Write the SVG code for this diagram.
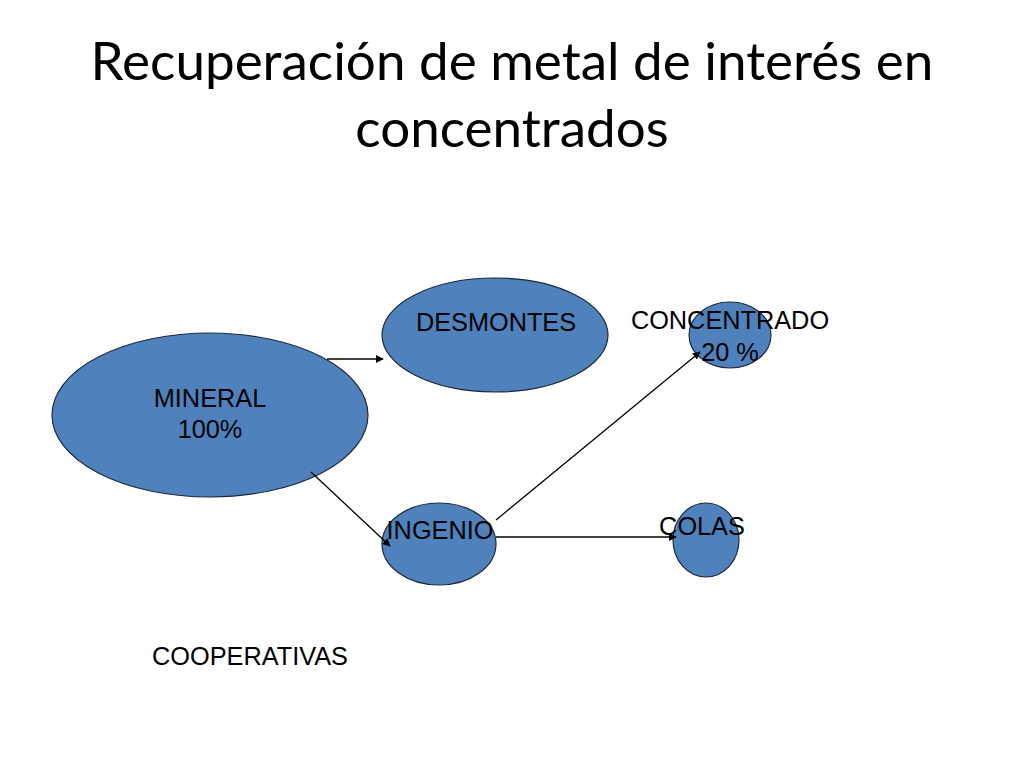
<svg xmlns="http://www.w3.org/2000/svg" width="1024" height="768" viewBox="0 0 1024 768">
<defs>
<style>
.node{fill:#4F81BD;stroke:#1c2a3a;stroke-width:1.2}
.lbl{font-family:"Liberation Sans",Arial,sans-serif;font-size:25.3px;fill:#000;text-anchor:middle}
.title{font-family:Lato,"Open Sans",sans-serif;font-size:53px;fill:#000;text-anchor:middle}
.conn{stroke:#000;stroke-width:1.3;fill:none;marker-end:url(#ah)}
</style>
<marker id="ah" viewBox="0 0 10 10" refX="9" refY="5" markerWidth="8" markerHeight="8" markerUnits="userSpaceOnUse" orient="auto">
<path d="M0,0 L10,5 L0,10 z" fill="#000"/>
</marker>
</defs>
<rect width="1024" height="768" fill="#fff"/>
<g id="title">
<text class="title" x="512" y="80">Recuperación de metal de interés en</text>
<text class="title" x="512" y="147">concentrados</text>
</g>
<g id="mineral">
<ellipse class="node" cx="210" cy="415" rx="158" ry="82"/>
<text class="lbl" x="210" y="407">MINERAL</text>
<text class="lbl" x="210" y="438">100%</text>
</g>
<g id="desmontes">
<ellipse class="node" cx="495" cy="335" rx="113" ry="57"/>
<text class="lbl" x="496" y="331">DESMONTES</text>
</g>
<g id="ingenio">
<ellipse class="node" cx="439" cy="544" rx="57" ry="41"/>
</g>
<g id="concentrado">
<ellipse class="node" cx="730" cy="335" rx="41" ry="33"/>
</g>
<g id="colas">
<ellipse class="node" cx="706" cy="540" rx="33" ry="37"/>
</g>
<g id="connectors">
<line class="conn" x1="327" y1="359" x2="383" y2="359"/>
<line class="conn" x1="311" y1="472" x2="390" y2="546"/>
<line class="conn" x1="496" y1="520" x2="700" y2="352"/>
<line class="conn" x1="496" y1="537" x2="676" y2="537"/>
</g>
<g id="labels">
<text class="lbl" x="440" y="539">INGENIO</text>
<text class="lbl" x="730" y="329">CONCENTRADO</text>
<text class="lbl" x="730" y="361">20 %</text>
<text class="lbl" x="702" y="535">COLAS</text>
</g>
<g id="cooperativas">
<text class="lbl" x="250" y="665">COOPERATIVAS</text>
</g>
</svg>
